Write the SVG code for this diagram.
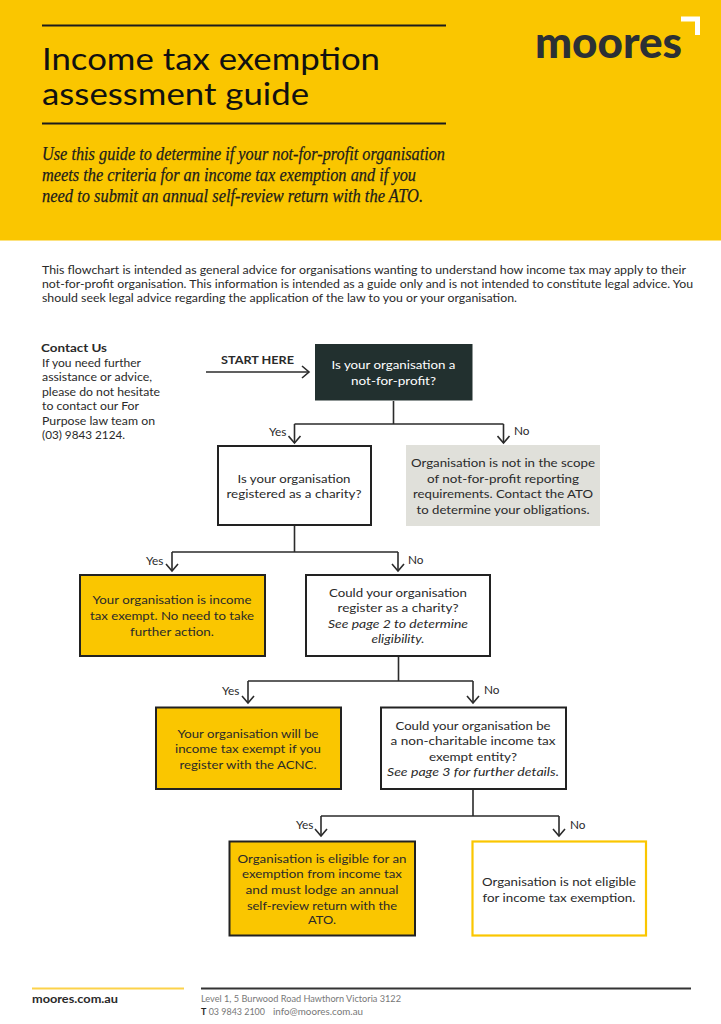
<svg xmlns="http://www.w3.org/2000/svg" width="721" height="1024" viewBox="0 0 721 1024">
<style>
text{font-family:"Lato","Open Sans","Liberation Sans",sans-serif;fill:#2a2a2a;font-size:11.8px}
.c{text-anchor:middle}
.i{font-style:italic}
.t{font-size:30px;fill:#111}
.s{font-family:"Liberation Serif",serif;font-style:italic;font-size:18.5px;fill:#1c1c1c;stroke:#1c1c1c;stroke-width:.25}
.w{fill:#fff;stroke:#222;stroke-width:2}
.y{fill:#fac600;stroke:#222;stroke-width:2}
.l{fill:none;stroke:#2b2b2b;stroke-width:1.6}
.f{fill:#777;font-size:9.5px}
</style>
<defs><marker id="a" markerUnits="userSpaceOnUse" markerWidth="14" markerHeight="14" refX="12" refY="7" orient="auto"><path d="M5 1 L12 7 L5 13" fill="none" stroke="#2b2b2b" stroke-width="1.6"/></marker></defs>
<rect width="721" height="1024" fill="#fff"/>
<g id="header">
<rect width="721" height="240.500" fill="#fac600"/>
<path d="M42 25.500H446M42 123.500H446" stroke="#1c1c1c" stroke-width="2" fill="none"/>
<text class="t" x="42" y="69.500" textLength="338" lengthAdjust="spacingAndGlyphs">Income tax exemption</text>
<text class="t" x="42" y="104.500" textLength="267" lengthAdjust="spacingAndGlyphs">assessment guide</text>
<text class="s" x="42" y="160" textLength="403" lengthAdjust="spacingAndGlyphs">Use this guide to determine if your not-for-profit organisation</text>
<text class="s" x="42" y="181" textLength="374" lengthAdjust="spacingAndGlyphs">meets the criteria for an income tax exemption and if you</text>
<text class="s" x="42" y="202" textLength="381" lengthAdjust="spacingAndGlyphs">need to submit an annual self-review return with the ATO.</text>
<text x="535" y="58" style="font-size:44px;font-weight:900;fill:#2b3035" textLength="147" lengthAdjust="spacingAndGlyphs">moores</text>
<path d="M681 19H697.500V35" fill="none" stroke="#fff" stroke-width="5"/>
</g>
<g id="intro">
<text x="42" y="274" textLength="644" lengthAdjust="spacingAndGlyphs">This flowchart is intended as general advice for organisations wanting to understand how income tax may apply to their</text>
<text x="42" y="288" textLength="651" lengthAdjust="spacingAndGlyphs">not-for-profit organisation. This information is intended as a guide only and is not intended to constitute legal advice. You</text>
<text x="42" y="302" textLength="475" lengthAdjust="spacingAndGlyphs">should seek legal advice regarding the application of the law to you or your organisation.</text>
</g>
<g id="contact">
<text x="41" y="352" style="font-weight:700" textLength="66" lengthAdjust="spacingAndGlyphs">Contact Us</text>
<text x="42" y="367" textLength="99" lengthAdjust="spacingAndGlyphs">If you need further</text>
<text x="42" y="381" textLength="110" lengthAdjust="spacingAndGlyphs">assistance or advice,</text>
<text x="42" y="396" textLength="118" lengthAdjust="spacingAndGlyphs">please do not hesitate</text>
<text x="42" y="410" textLength="97" lengthAdjust="spacingAndGlyphs">to contact our For</text>
<text x="42" y="425" textLength="113" lengthAdjust="spacingAndGlyphs">Purpose law team on</text>
<text x="42" y="439" textLength="83" lengthAdjust="spacingAndGlyphs">(03) 9843 2124.</text>
</g>
<g id="connectors">
<path class="l" d="M206 372H309" marker-end="url(#a)"/>
<path class="l" d="M393.500 401V424M294.500 424H503.500"/>
<path class="l" d="M294.500 424V443" marker-end="url(#a)"/>
<path class="l" d="M503.500 424V443" marker-end="url(#a)"/>
<path class="l" d="M294.500 526V552M172 552H398"/>
<path class="l" d="M172 552V571" marker-end="url(#a)"/>
<path class="l" d="M398 552V571" marker-end="url(#a)"/>
<path class="l" d="M398.500 657V681M248 681H473"/>
<path class="l" d="M248 681V703" marker-end="url(#a)"/>
<path class="l" d="M473 681V703" marker-end="url(#a)"/>
<path class="l" d="M473 790V816M321 816H559"/>
<path class="l" d="M321 816V836" marker-end="url(#a)"/>
<path class="l" d="M559 816V836" marker-end="url(#a)"/>
</g>
<g id="labels">
<text x="269" y="436">Yes</text><text x="514" y="435">No</text>
<text x="146" y="565">Yes</text><text x="408" y="564">No</text>
<text x="222" y="695">Yes</text><text x="484" y="694">No</text>
<text x="296" y="829">Yes</text><text x="570" y="829">No</text>
<text x="221" y="364" style="font-weight:700" textLength="73" lengthAdjust="spacingAndGlyphs">START HERE</text>
</g>
<g id="n1"><rect x="315" y="344" width="157.500" height="56.500" fill="#22302f"/>
<text class="c" x="393.500" y="369" style="fill:#fff" textLength="124" lengthAdjust="spacingAndGlyphs">Is your organisation a</text>
<text class="c" x="393.500" y="385" style="fill:#fff" textLength="85" lengthAdjust="spacingAndGlyphs">not-for-profit?</text></g>
<g id="n2"><rect class="w" x="218" y="446" width="153" height="79"/>
<text class="c" x="294" y="483" textLength="113" lengthAdjust="spacingAndGlyphs">Is your organisation</text>
<text class="c" x="294" y="498" textLength="135" lengthAdjust="spacingAndGlyphs">registered as a charity?</text></g>
<g id="n3"><rect x="406" y="445" width="194" height="81" fill="#e0e0da"/>
<text class="c" x="503" y="467" textLength="184" lengthAdjust="spacingAndGlyphs">Organisation is not in the scope</text>
<text class="c" x="503" y="483" textLength="152" lengthAdjust="spacingAndGlyphs">of not-for-profit reporting</text>
<text class="c" x="503" y="498" textLength="180" lengthAdjust="spacingAndGlyphs">requirements. Contact the ATO</text>
<text class="c" x="503" y="514" textLength="173" lengthAdjust="spacingAndGlyphs">to determine your obligations.</text></g>
<g id="n4"><rect class="y" x="80" y="575" width="185" height="81"/>
<text class="c" x="172" y="604" textLength="159" lengthAdjust="spacingAndGlyphs">Your organisation is income</text>
<text class="c" x="172" y="620" textLength="164" lengthAdjust="spacingAndGlyphs">tax exempt. No need to take</text>
<text class="c" x="172" y="636" textLength="84" lengthAdjust="spacingAndGlyphs">further action.</text></g>
<g id="n5"><rect class="w" x="306" y="575" width="184" height="81"/>
<text class="c" x="398" y="597" textLength="138" lengthAdjust="spacingAndGlyphs">Could your organisation</text>
<text class="c" x="398" y="612" textLength="121" lengthAdjust="spacingAndGlyphs">register as a charity?</text>
<text class="c i" x="398" y="628" textLength="140" lengthAdjust="spacingAndGlyphs">See page 2 to determine</text>
<text class="c i" x="398" y="643" textLength="53" lengthAdjust="spacingAndGlyphs">eligibility.</text></g>
<g id="n6"><rect class="y" x="156" y="707.500" width="185" height="81.500"/>
<text class="c" x="248" y="738" textLength="141" lengthAdjust="spacingAndGlyphs">Your organisation will be</text>
<text class="c" x="248" y="753" textLength="146" lengthAdjust="spacingAndGlyphs">income tax exempt if you</text>
<text class="c" x="248" y="769" textLength="137" lengthAdjust="spacingAndGlyphs">register with the ACNC.</text></g>
<g id="n7"><rect class="w" x="381" y="707.500" width="185" height="81.500"/>
<text class="c" x="473" y="730" textLength="155" lengthAdjust="spacingAndGlyphs">Could your organisation be</text>
<text class="c" x="473" y="745" textLength="165" lengthAdjust="spacingAndGlyphs">a non-charitable income tax</text>
<text class="c" x="473" y="761" textLength="88" lengthAdjust="spacingAndGlyphs">exempt entity?</text>
<text class="c i" x="473" y="776" textLength="172" lengthAdjust="spacingAndGlyphs">See page 3 for further details.</text></g>
<g id="n8"><rect class="y" x="229.500" y="841.500" width="185.500" height="94"/>
<text class="c" x="322" y="863" textLength="169" lengthAdjust="spacingAndGlyphs">Organisation is eligible for an</text>
<text class="c" x="322" y="878" textLength="160" lengthAdjust="spacingAndGlyphs">exemption from income tax</text>
<text class="c" x="322" y="894" textLength="153" lengthAdjust="spacingAndGlyphs">and must lodge an annual</text>
<text class="c" x="322" y="910" textLength="150" lengthAdjust="spacingAndGlyphs">self-review return with the</text>
<text class="c" x="322" y="924" textLength="28" lengthAdjust="spacingAndGlyphs">ATO.</text></g>
<g id="n9"><rect x="472.500" y="841.500" width="173.500" height="94" fill="#fff" stroke="#fac600" stroke-width="2.200"/>
<text class="c" x="559" y="886" textLength="154" lengthAdjust="spacingAndGlyphs">Organisation is not eligible</text>
<text class="c" x="559" y="902" textLength="153" lengthAdjust="spacingAndGlyphs">for income tax exemption.</text></g>
<g id="footer">
<path d="M32 988.500H184" stroke="#fcd24a" stroke-width="2.200"/>
<path d="M201 988.500H691" stroke="#333" stroke-width="2.200"/>
<text x="32" y="1003" style="font-weight:700;font-size:11px" textLength="86" lengthAdjust="spacingAndGlyphs">moores.com.au</text>
<text class="f" x="201" y="1002" textLength="200" lengthAdjust="spacingAndGlyphs">Level 1, 5 Burwood Road Hawthorn Victoria 3122</text>
<text class="f" x="201" y="1015" textLength="64" lengthAdjust="spacingAndGlyphs"><tspan style="font-weight:700;fill:#222">T</tspan> 03 9843 2100</text>
<text class="f" x="273" y="1015" textLength="90" lengthAdjust="spacingAndGlyphs">info@moores.com.au</text>
</g>
</svg>
